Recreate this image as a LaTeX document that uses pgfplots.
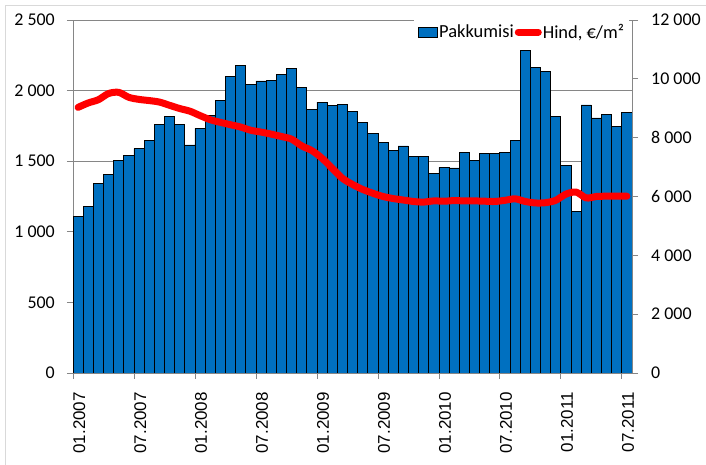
\documentclass[border=0pt]{standalone}
\usepackage{pgfplots}
\pgfplotsset{compat=1.18}
\usepackage{fontspec}
\setmainfont{Carlito}
\newfontfamily\xfont{Liberation Sans}
\definecolor{barblue}{RGB}{0,112,192}
\definecolor{axisgray}{RGB}{134,134,134}
\definecolor{bordergray}{RGB}{217,217,217}
\pgfplotstableread{
x v
0.5 1107
1.5 1178
2.5 1343
3.5 1409
4.5 1506
5.5 1541
6.5 1589
7.5 1650
8.5 1761
9.5 1818
10.5 1761
11.5 1615
12.5 1733
13.5 1825
14.5 1933
15.5 2101
16.5 2177
17.5 2044
18.5 2068
19.5 2073
20.5 2115
21.5 2158
22.5 2023
23.5 1867
24.5 1919
25.5 1896
26.5 1903
27.5 1855
28.5 1775
29.5 1697
30.5 1634
31.5 1575
32.5 1608
33.5 1534
34.5 1534
35.5 1414
36.5 1457
37.5 1452
38.5 1565
39.5 1508
40.5 1553
41.5 1553
42.5 1563
43.5 1650
44.5 2287
45.5 2165
46.5 2136
47.5 1820
48.5 1471
49.5 1145
50.5 1898
51.5 1806
52.5 1834
53.5 1749
54.5 1846
}\offers
\pgfplotstableread{
x p
0.5 9030
1.5 9180
2.5 9290
3.5 9500
4.5 9540
5.5 9370
6.5 9300
7.5 9260
8.5 9210
9.5 9100
10.5 8990
11.5 8900
12.5 8750
13.5 8610
14.5 8520
15.5 8440
16.5 8360
17.5 8250
18.5 8190
19.5 8120
20.5 8040
21.5 7950
22.5 7720
23.5 7560
24.5 7300
25.5 6960
26.5 6620
27.5 6410
28.5 6240
29.5 6110
30.5 6000
31.5 5930
32.5 5880
33.5 5830
34.5 5810
35.5 5850
36.5 5840
37.5 5860
38.5 5850
39.5 5850
40.5 5840
41.5 5830
42.5 5870
43.5 5920
44.5 5830
45.5 5780
46.5 5790
47.5 5870
48.5 6080
49.5 6150
50.5 5950
51.5 6000
52.5 6010
53.5 6010
54.5 6010
}\price
\begin{document}
\begin{tikzpicture}[x=1bp,y=1bp]
\useasboundingbox (0,0) rectangle (706,465);
\draw[bordergray, line width=1bp] (5.5,0) -- (5.5,459.5) -- (706,459.5);
\begin{axis}[
  at={(73bp,92bp)}, anchor=south west,
  width=559bp, height=353bp, scale only axis,
  xmin=0, xmax=55, ymin=0, ymax=2500,
  axis y line*=left, axis x line*=bottom,
  axis line style={axisgray, line width=0.8bp},
  tick align=outside, major tick length=6bp,
  tick style={axisgray, line width=0.8bp},
  scaled y ticks=false,
  xtick={0,6,...,54},
  xticklabels={01.2007,07.2007,01.2008,07.2008,01.2009,07.2009,01.2010,07.2010,01.2011,07.2011},
  xticklabel style={rotate=90, anchor=north east, inner sep=0pt, font=\xfont\fontsize{17}{19}\selectfont},
  xticklabel shift=13bp,
  ytick={0,500,...,2500},
  yticklabels={0,500,1~000,1~500,2~000,2~500},
  yticklabel style={anchor=east, inner sep=0pt, font=\fontsize{18}{20}\selectfont},
  yticklabel shift=12bp,
  ymajorgrids, major grid style={axisgray, line width=0.8bp},
  minor tick num=0,
]
\addplot[ybar, bar width=1, fill=barblue, draw=black, line width=0.8bp] table[x=x,y=v] {\offers};
\end{axis}
\begin{axis}[
  at={(73bp,92bp)}, anchor=south west,
  width=559bp, height=353bp, scale only axis,
  xmin=0, xmax=55, ymin=0, ymax=12000,
  axis y line*=right, axis x line=none,
  axis line style={axisgray, line width=0.8bp},
  tick align=outside, major tick length=6bp,
  tick style={axisgray, line width=0.8bp},
  scaled y ticks=false,
  ytick={0,2000,...,12000},
  yticklabels={0,2~000,4~000,6~000,8~000,10~000,12~000},
  yticklabel style={anchor=west, inner sep=0pt, font=\fontsize{18}{20}\selectfont},
  yticklabel shift=13bp,
  legend columns=2,
  legend style={at={(0.995,1)}, anchor=north east, draw=none, fill=white,
    font=\fontsize{18.5}{20}\selectfont, inner xsep=4bp, inner ysep=3bp,
    nodes={inner sep=1bp},
    /tikz/every even column/.append style={column sep=0pt}},
]
\addlegendimage{legend image code/.code={\draw[fill=barblue, draw=black, line width=0.8bp] (0bp,-5bp) rectangle (19bp,5bp);}}
\addlegendentry{Pakkumisi}
\addplot[red, line width=7bp, line cap=round, line join=round, smooth, tension=0.5,
  legend image code/.code={\draw[red, line width=7bp, line cap=round] (2bp,0bp) -- (22bp,0bp);}]
  table[x=x,y=p] {\price};
\addlegendentry{Hind, €/m²}
\end{axis}
\end{tikzpicture}
\end{document}
